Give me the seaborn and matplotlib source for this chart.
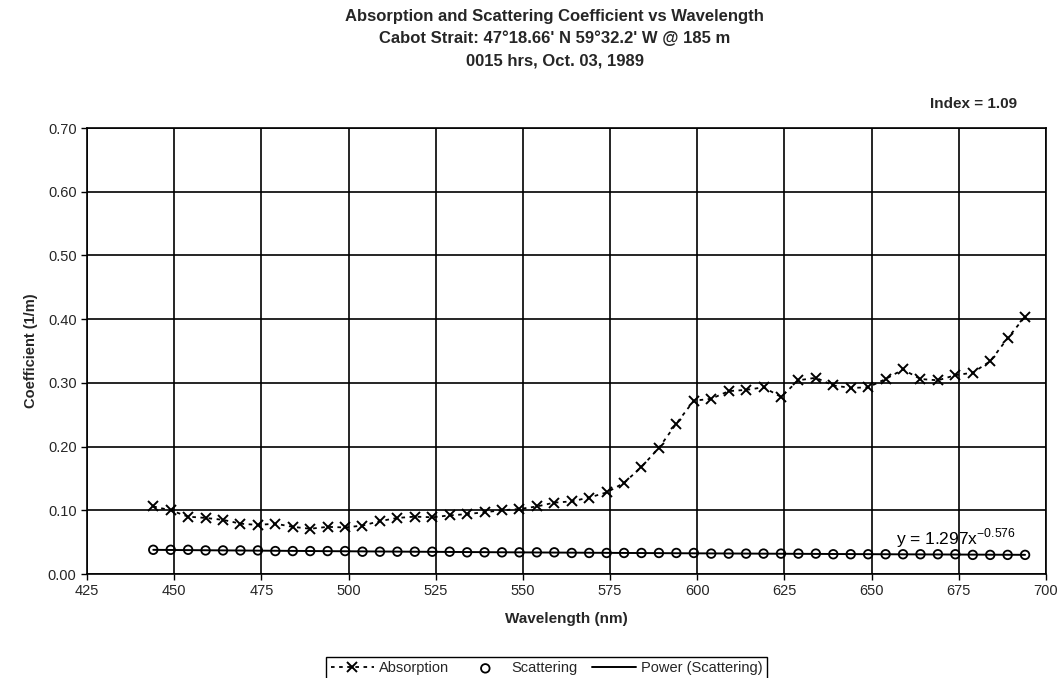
import numpy as np
import pandas as pd
import seaborn as sns
import matplotlib.pyplot as plt

# wavelengths (nm), 5 nm steps
wavelength = [444 + 5 * i for i in range(51)]

absorption = [0.106, 0.100, 0.090, 0.088, 0.085, 0.079, 0.077, 0.079, 0.074, 0.071,
              0.074, 0.073, 0.076, 0.083, 0.088, 0.090, 0.089, 0.092, 0.094, 0.097,
              0.100, 0.102, 0.106, 0.112, 0.114, 0.120, 0.128, 0.143, 0.168, 0.198,
              0.236, 0.272, 0.275, 0.287, 0.289, 0.293, 0.278, 0.304, 0.308, 0.296,
              0.292, 0.293, 0.306, 0.321, 0.306, 0.304, 0.312, 0.316, 0.334, 0.370,
              0.404]

scattering = [0.038, 0.038, 0.038, 0.037, 0.037, 0.037, 0.037, 0.036, 0.036, 0.036,
              0.036, 0.036, 0.035, 0.035, 0.035, 0.035, 0.035, 0.035, 0.034, 0.034,
              0.034, 0.034, 0.034, 0.034, 0.033, 0.033, 0.033, 0.033, 0.033, 0.033,
              0.033, 0.033, 0.032, 0.032, 0.032, 0.032, 0.032, 0.032, 0.032, 0.031,
              0.031, 0.031, 0.031, 0.031, 0.031, 0.031, 0.031, 0.030, 0.030, 0.030,
              0.030]

df = pd.DataFrame({"Wavelength": wavelength, "Absorption": absorption, "Scattering": scattering})

# power trend line fitted to scattering (like excel's power trendline)
b, log_a = np.polyfit(np.log(df["Wavelength"]), np.log(df["Scattering"]), 1)
df["Power"] = np.exp(log_a) * df["Wavelength"] ** b

sns.set_style("white")
plt.rcParams['font.family'] = ['Liberation Sans', 'DejaVu Sans']

fig = plt.figure(figsize=(10.63, 6.78), dpi=100)
ax = fig.add_axes([87 / 1063, 1 - 574 / 678, (1046 - 87) / 1063, (574 - 128) / 678])

sns.lineplot(data=df, x="Wavelength", y="Power", ax=ax, color="black", linewidth=1.4,
             label="Power (Scattering)", zorder=3)
sns.lineplot(data=df, x="Wavelength", y="Absorption", ax=ax, color="black", linewidth=1.3,
             linestyle=(0, (2, 2.5)), marker="x", markersize=7, markeredgewidth=1.4,
             markeredgecolor="black", label="Absorption", zorder=4)
sns.scatterplot(data=df, x="Wavelength", y="Scattering", ax=ax, marker="o", s=38,
                facecolor="none", edgecolor="black", linewidth=1.3, label="Scattering", zorder=4)

ax.set_xlim(425, 700)
ax.set_ylim(0, 0.70)
ax.set_xticks(np.arange(425, 701, 25))
ax.set_yticks(np.arange(0, 0.71, 0.1))
ax.set_yticklabels([f"{v:.2f}" for v in np.arange(0, 0.71, 0.1)])
ax.grid(True, color="black", linewidth=1.2)
ax.tick_params(direction="out", length=4, width=1, color="black", labelsize=10.5, bottom=True, left=True)
for s in ax.spines.values():
    s.set_color("black")
    s.set_linewidth(1.2)

ax.set_xlabel("Wavelength (nm)", fontsize=11, fontweight="bold", labelpad=10)
ax.set_ylabel("Coefficient (1/m)", fontsize=10.5, fontweight="bold", labelpad=7)

ax.text(657, 0.046, r"y = 1.297x$^{\mathregular{-0.576}}$", fontsize=12.5, color="black")

fig.text(0.522, 0.976, "Absorption and Scattering Coefficient vs Wavelength",
         ha="center", va="center", fontsize=12, fontweight="bold")
fig.text(0.522, 0.943, "Cabot Strait: 47°18.66' N 59°32.2' W @ 185 m",
         ha="center", va="center", fontsize=12, fontweight="bold")
fig.text(0.522, 0.910, "0015 hrs, Oct. 03, 1989",
         ha="center", va="center", fontsize=12, fontweight="bold")
fig.text(0.957, 0.847, "Index = 1.09", ha="right", va="center", fontsize=11, fontweight="bold")

handles, labels = ax.get_legend_handles_labels()
order = [labels.index(l) for l in ["Absorption", "Scattering", "Power (Scattering)"]]
ax.get_legend().remove()
leg = fig.legend([handles[i] for i in order], [labels[i] for i in order], loc="upper center",
                 bbox_to_anchor=(0.514, 0.042), ncol=3, frameon=True, fancybox=False,
                 edgecolor="black", framealpha=1, fontsize=10.5, handlelength=3,
                 columnspacing=1.0, borderpad=0.3, handletextpad=0.3)
leg.get_frame().set_linewidth(1.0)

fig.savefig("out.png", dpi=100)
